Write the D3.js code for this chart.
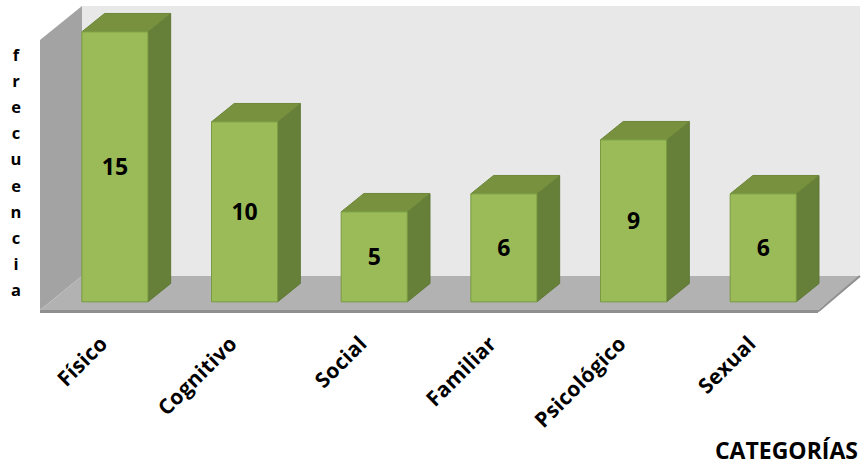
<!DOCTYPE html>
<html>
<head>
<meta charset="utf-8">
<script src="https://cdn.jsdelivr.net/npm/d3@7"></script>
<style>
  body { margin: 0; background: #fff; }
  svg { display: block; font-family: 'Open Sans', Lato, sans-serif; font-weight: bold; }
</style>
</head>
<body>
<div class="graph"><svg></svg></div>
<script>
// data
const categories = ['Físico', 'Cognitivo', 'Social', 'Familiar', 'Psicológico', 'Sexual']
const values = [15, 10, 5, 6, 9, 6]
const yMax = 15
const yTitle = 'frecuencia'
const xTitle = 'CATEGORÍAS'

const width = 862
const height = 466

// front plane of the 3d box, plus the depth vector going back
const plot = { left: 40, right: 818, top: 40, bottom: 310 }
const depth = { x: 42, y: -34 }
const barFront = 0.24
const barBack = 0.78

const svg = d3.select('.graph').select('svg')
  .attr('width', width)
  .attr('height', height)

const xScale = d3.scaleBand()
  .domain(categories)
  .range([plot.left, plot.right])
  .paddingInner(0.49)
  .paddingOuter(0.245)

const yScale = d3.scaleLinear()
  .domain([0, yMax])
  .range([plot.bottom, plot.top])

const pt = (x, y, f) => [x + depth.x * f, y + depth.y * f]
const line = d3.line()

function poly (points, fill, stroke) {
  svg.append('path')
    .attr('d', line(points) + 'Z')
    .attr('fill', fill)
    .attr('stroke', stroke || 'none')
    .attr('stroke-width', 1)
}

const y0 = yScale(0)
const yTop = yScale(yMax)

// back wall
poly([pt(plot.left, yTop, 1), pt(plot.right, yTop, 1), pt(plot.right, y0, 1), pt(plot.left, y0, 1)], '#e8e8e8')

// left wall
poly([[plot.left, y0], [plot.left, yTop], pt(plot.left, yTop, 1), pt(plot.left, y0, 1)], '#a3a3a3')

// floor
poly([[plot.left, y0], [plot.right, y0], pt(plot.right, y0, 1), pt(plot.left, y0, 1)], '#b2b2b2')
svg.append('rect')
  .attr('x', plot.left)
  .attr('y', y0)
  .attr('width', plot.right - plot.left)
  .attr('height', 3)
  .attr('fill', '#8f8f8f')
svg.append('path')
  .attr('d', line([[plot.right, y0 + 1.5], pt(plot.right, y0, 1)]))
  .attr('stroke', '#8f8f8f')
  .attr('stroke-width', 2)

// bars
categories.forEach((c, i) => {
  const x1 = xScale(c)
  const x2 = x1 + xScale.bandwidth()
  const yv = yScale(values[i])

  // side face
  poly([pt(x2, yv, barFront), pt(x2, yv, barBack), pt(x2, y0, barBack), pt(x2, y0, barFront)], '#66803a', '#5f7835')
  // top face
  poly([pt(x1, yv, barFront), pt(x1, yv, barBack), pt(x2, yv, barBack), pt(x2, yv, barFront)], '#77913f', '#6d873a')
  // front face
  poly([pt(x1, yv, barFront), pt(x2, yv, barFront), pt(x2, y0, barFront), pt(x1, y0, barFront)], '#9bbb59', '#789a40')

  const [cx, cy] = pt(x1 + xScale.bandwidth() / 2, (yv + y0) / 2, barFront)
  svg.append('text')
    .attr('x', cx)
    .attr('y', cy)
    .attr('dy', '0.35em')
    .attr('text-anchor', 'middle')
    .attr('font-size', 23)
    .attr('fill', '#000')
    .text(values[i])
})

// category labels, rotated
categories.forEach(c => {
  const x = xScale(c) + xScale.bandwidth() / 2 + 4
  const y = 345
  svg.append('text')
    .attr('transform', 'translate(' + x + ',' + y + ') rotate(-45)')
    .attr('text-anchor', 'end')
    .attr('font-size', 21)
    .attr('letter-spacing', 0.3)
    .attr('fill', '#000')
    .text(c)
})

// stacked y title
svg.append('g')
  .selectAll('text')
  .data(yTitle.split(''))
  .join('text')
  .attr('x', 16)
  .attr('y', (d, i) => 61 + i * 26.1)
  .attr('text-anchor', 'middle')
  .attr('font-size', 16.5)
  .attr('fill', '#000')
  .text(d => d)

svg.append('text')
  .attr('x', 858)
  .attr('y', 459)
  .attr('text-anchor', 'end')
  .attr('font-size', 23)
  .attr('fill', '#000')
  .text(xTitle)
</script>
</body>
</html>
